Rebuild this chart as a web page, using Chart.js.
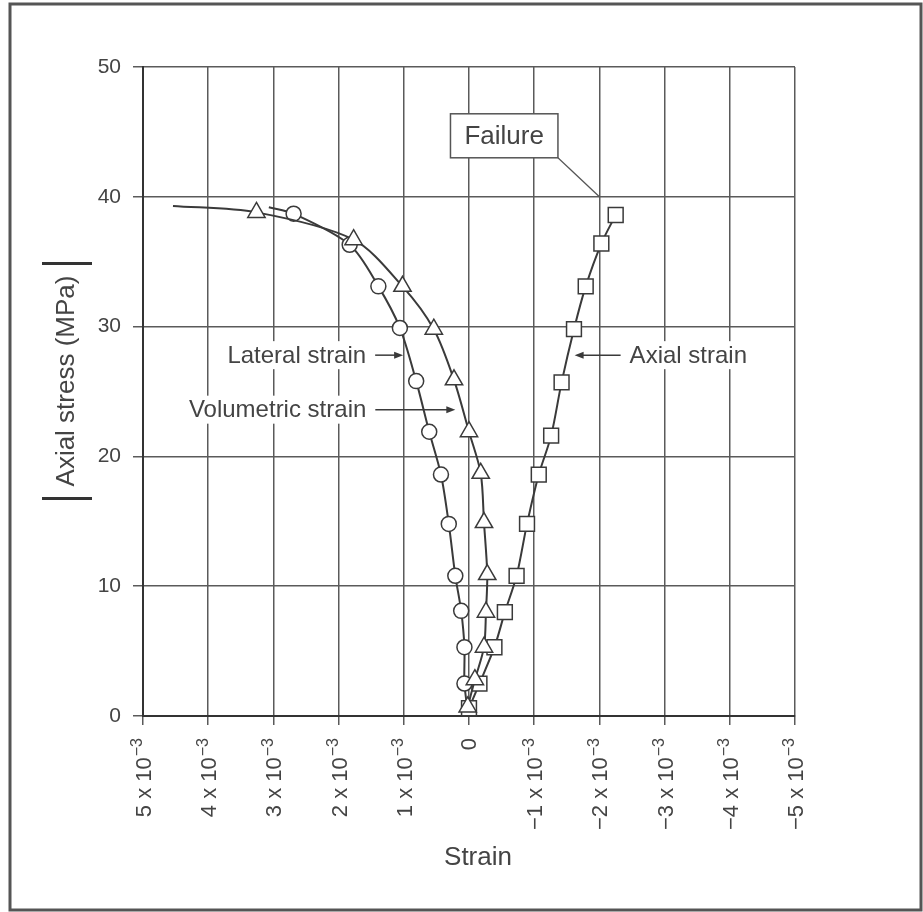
<!DOCTYPE html>
<html>
<head>
<meta charset="utf-8">
<script src="https://cdn.jsdelivr.net/npm/chart.js"></script>
<style>
  html, body { margin: 0; padding: 0; background: #fff; }
  canvas { display: block; }
</style>
</head>
<body>
<canvas id="chart" width="923" height="912"></canvas>
<script>
// strain is in units of 10^-3, positive values plot on the left
const xTicks = [5, 4, 3, 2, 1, 0, -1, -2, -3, -4, -5];
const yTicks = [0, 10, 20, 30, 40, 50];

// volumetric strain (triangles)
const volStrain = [3.26, 1.77, 1.02, 0.54, 0.23, 0.0, -0.18, -0.23, -0.28, -0.26, -0.23, -0.09, 0.02];
const volStress = [38.8, 36.7, 33.1, 29.8, 25.9, 21.9, 18.7, 14.9, 10.9, 8.0, 5.3, 2.8, 0.7];

// lateral strain (circles)
const latStrain = [2.69, 1.83, 1.39, 1.06, 0.81, 0.61, 0.43, 0.31, 0.21, 0.12, 0.07, 0.07];
const latStress = [38.7, 36.3, 33.1, 29.9, 25.8, 21.9, 18.6, 14.8, 10.8, 8.1, 5.3, 2.5];

// axial strain (squares)
const axStrain = [-2.25, -2.03, -1.79, -1.61, -1.42, -1.26, -1.07, -0.89, -0.73, -0.55, -0.39, -0.16, 0.0];
const axStress = [38.6, 36.4, 33.1, 29.8, 25.7, 21.6, 18.6, 14.8, 10.8, 8.0, 5.3, 2.5, 0.6];

// curve ends drawn without a marker
const volTailStart = [4.54, 39.3];
const latTailStart = [3.07, 39.2];
const latTailEnd = [0.02, 0.4];

const INK = '#3a3a3a';
const TXT = '#444';
const FONT = '"Liberation Sans", Arial, sans-serif';

function pts(xs, ys) {
  return xs.map((x, i) => ({ x, y: ys[i] }));
}
function bare(p) {
  return { x: p[0], y: p[1], bare: true };
}

const volData = [bare(volTailStart), ...pts(volStrain, volStress)];
const latData = [bare(latTailStart), ...pts(latStrain, latStress), bare(latTailEnd)];
const axData = pts(axStrain, axStress);

function series(data, style, r) {
  return {
    data,
    showLine: true,
    tension: 0.3,
    borderColor: INK,
    borderWidth: 2,
    pointStyle: style,
    pointRadius: ctx => (ctx.raw && ctx.raw.bare ? 0 : r),
    pointHoverRadius: ctx => (ctx.raw && ctx.raw.bare ? 0 : r),
    pointBackgroundColor: '#fff',
    pointBorderColor: INK,
    pointBorderWidth: 1.5,
    clip: false
  };
}

// notes: arrow tip in data units, text on one side
const notes = [
  { text: 'Lateral strain', tip: [1.01, 27.8], len: 28, side: -1 },
  { text: 'Volumetric strain', tip: [0.21, 23.6], len: 80, side: -1 },
  { text: 'Axial strain', tip: [-1.62, 27.8], len: 46, side: 1 }
];
const failure = { text: 'Failure', at: [-0.54, 44.7], to: [-2.0, 40] };

function arrow(c, x0, x1, y) {
  const d = Math.sign(x1 - x0);
  c.beginPath();
  c.moveTo(x0, y);
  c.lineTo(x1 - d * 6, y);
  c.stroke();
  c.beginPath();
  c.moveTo(x1, y);
  c.lineTo(x1 - d * 9, y - 3.5);
  c.lineTo(x1 - d * 9, y + 3.5);
  c.closePath();
  c.fill();
}

// x tick labels like "5 x 10^-3", written bottom-to-top
function drawXLabels(c, xs) {
  const top = xs.top + 22;
  xTicks.forEach(v => {
    const px = xs.getPixelForValue(v);
    c.save();
    c.translate(px, top);
    c.rotate(-Math.PI / 2);
    c.textAlign = 'right';
    c.textBaseline = 'middle';
    c.fillStyle = TXT;
    if (v === 0) {
      c.font = '22px ' + FONT;
      c.fillText('0', 0, 1);
    } else {
      c.font = '16px ' + FONT;
      c.fillText('\u22123', 0, -5);
      const ew = c.measureText('\u22123').width + 1;
      c.font = '22px ' + FONT;
      const base = (v < 0 ? '\u2212' : '') + Math.abs(v) + ' x 10';
      c.fillText(base, -ew, 2);
    }
    c.restore();
  });
}

const decor = {
  id: 'decor',
  beforeDraw(chart) {
    const c = chart.ctx;
    c.save();
    c.fillStyle = '#fff';
    c.fillRect(0, 0, chart.width, chart.height);
    c.strokeStyle = '#555';
    c.lineWidth = 3;
    c.strokeRect(10, 4, 911, 906);
    c.restore();
  },
  afterDatasetsDraw(chart) {
    const c = chart.ctx;
    const xs = chart.scales.x, ys = chart.scales.y;
    c.save();
    c.font = '24px ' + FONT;
    c.textBaseline = 'middle';
    c.lineWidth = 1.5;

    notes.forEach(n => {
      const tx = xs.getPixelForValue(n.tip[0]);
      const ty = ys.getPixelForValue(n.tip[1]);
      const x0 = tx + n.side * n.len;
      c.strokeStyle = INK;
      c.fillStyle = INK;
      arrow(c, x0, tx, ty);
      const w = c.measureText(n.text).width;
      const gap = 9;
      const left = n.side < 0 ? x0 - gap - w : x0 + gap;
      c.fillStyle = '#fff';
      c.fillRect(left - 5, ty - 14, w + 10, 28);
      c.fillStyle = TXT;
      c.textAlign = 'left';
      c.fillText(n.text, left, ty + 1);
    });

    // failure box with leader line
    c.font = '26px ' + FONT;
    const fx = xs.getPixelForValue(failure.at[0]);
    const fy = ys.getPixelForValue(failure.at[1]);
    const fw = c.measureText(failure.text).width + 28;
    const fh = 44;
    c.strokeStyle = '#555';
    c.lineWidth = 1.2;
    c.beginPath();
    c.moveTo(fx + fw / 2, fy + fh / 2);
    c.lineTo(xs.getPixelForValue(failure.to[0]), ys.getPixelForValue(failure.to[1]));
    c.stroke();
    c.fillStyle = '#fff';
    c.fillRect(fx - fw / 2, fy - fh / 2, fw, fh);
    c.lineWidth = 1.5;
    c.strokeRect(fx - fw / 2, fy - fh / 2, fw, fh);
    c.fillStyle = TXT;
    c.textAlign = 'center';
    c.fillText(failure.text, fx, fy + 1);

    drawXLabels(c, xs);

    // x title
    c.fillStyle = TXT;
    c.textAlign = 'center';
    c.font = '26px ' + FONT;
    c.fillText('Strain', 478, 858);

    // y title between bars
    c.save();
    c.translate(67, 381);
    c.rotate(-Math.PI / 2);
    c.font = '26px ' + FONT;
    c.fillText('Axial stress (MPa)', 0, 0);
    const half = c.measureText('Axial stress (MPa)').width / 2 + 12;
    c.strokeStyle = '#333';
    c.lineWidth = 3;
    c.beginPath();
    c.moveTo(-half, -25);
    c.lineTo(-half, 25);
    c.moveTo(half, -25);
    c.lineTo(half, 25);
    c.stroke();
    c.restore();

    c.restore();
  }
};

new Chart(document.getElementById('chart'), {
  type: 'scatter',
  data: {
    datasets: [
      series(volData, 'triangle', 10),
      series(latData, 'circle', 7.5),
      series(axData, 'rect', 10.5)
    ]
  },
  options: {
    responsive: false,
    animation: false,
    events: [],
    layout: { padding: { left: 0, top: 67, right: 128, bottom: 0 } },
    plugins: { legend: { display: false }, tooltip: { enabled: false } },
    scales: {
      x: {
        type: 'linear',
        reverse: true,
        min: xTicks[xTicks.length - 1],
        max: xTicks[0],
        afterFit: s => { s.height = 196; },
        afterBuildTicks: s => { s.ticks = xTicks.map(v => ({ value: v })); },
        ticks: { display: false },
        grid: { color: '#5a5a5a', lineWidth: 1.5, tickLength: 9 },
        border: { color: '#333', width: 2 }
      },
      y: {
        min: yTicks[0],
        max: yTicks[yTicks.length - 1],
        afterFit: s => { s.width = 143; },
        afterBuildTicks: s => { s.ticks = yTicks.map(v => ({ value: v })); },
        ticks: {
          padding: 12,
          color: TXT,
          font: { family: FONT, size: 21 }
        },
        grid: { color: '#5a5a5a', lineWidth: 1.5, tickLength: 10 },
        border: { color: '#333', width: 2 }
      }
    }
  },
  plugins: [decor]
});
</script>
</body>
</html>
